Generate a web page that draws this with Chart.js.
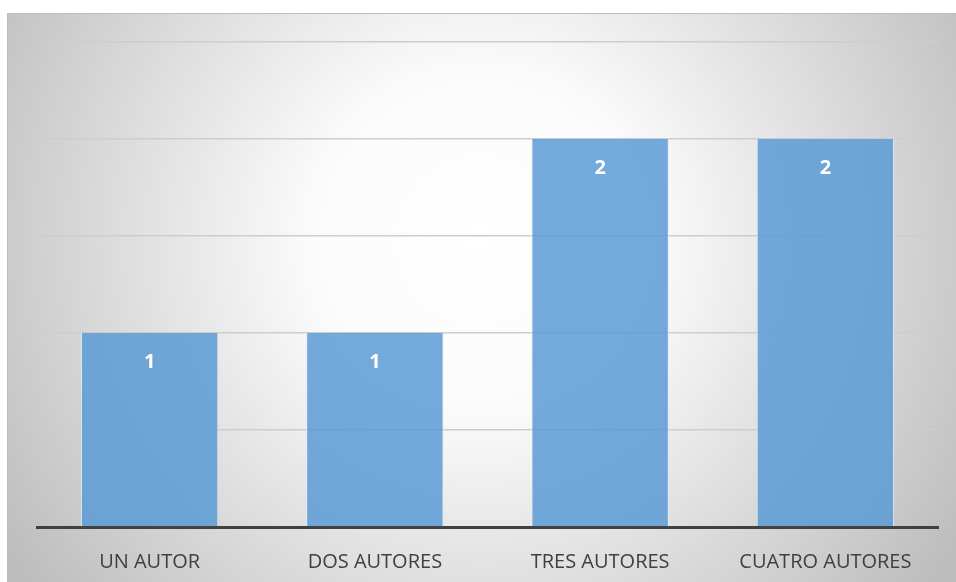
<!DOCTYPE html>
<html>
<head>
<meta charset="utf-8">
<script src="https://cdn.jsdelivr.net/npm/chart.js@4"></script>
<style>
  html, body { margin: 0; padding: 0; background: #fff; }
  #wrap { width: 956px; height: 582px; }
</style>
</head>
<body>
<div id="wrap"><canvas id="grafico"></canvas></div>
<script>
// Datos
const categorias = ['UN AUTOR', 'DOS AUTORES', 'TRES AUTORES', 'CUATRO AUTORES'];
const valores = [1, 1, 2, 2];

// Fondo con degradado radial (como el gráfico original)
const fondo = {
  id: 'fondo',
  beforeDraw(chart) {
    const c = chart.ctx;
    const x0 = 7, y0 = 13, w = chart.width - x0 + 10, h = chart.height - y0 + 10;
    const cx = 480, cy = 240;
    const g = c.createRadialGradient(cx, cy, 0, cx, cy, 560);
    g.addColorStop(0, '#ffffff');
    g.addColorStop(0.3, '#fbfbfb');
    g.addColorStop(1, '#bebebe');
    c.save();
    c.fillStyle = g;
    c.fillRect(x0, y0, w, h);
    c.strokeStyle = '#bdbdbd';
    c.lineWidth = 1;
    c.strokeRect(x0 + 0.5, y0 + 0.5, w, h);
    c.restore();
  }
};

// Etiquetas de valor dentro de las barras
const etiquetas = {
  id: 'etiquetas',
  afterDatasetsDraw(chart) {
    const c = chart.ctx;
    const meta = chart.getDatasetMeta(0);
    c.save();
    c.fillStyle = '#ffffff';
    c.font = 'bold 20px "Open Sans", sans-serif';
    c.textAlign = 'center';
    c.textBaseline = 'middle';
    meta.data.forEach((bar, i) => {
      c.fillText(valores[i], bar.x, bar.y + 29);
    });
    c.restore();
  }
};

const ctx = document.getElementById('grafico').getContext('2d');
const grafico = new Chart(ctx, {
  type: 'bar',
  data: {
    labels: categorias,
    datasets: [{
      data: valores,
      backgroundColor: 'rgba(91, 155, 213, 0.85)',
      borderColor: 'rgba(225, 238, 250, 0.9)',
      borderWidth: { left: 1, right: 1, top: 0, bottom: 0 },
      categoryPercentage: 0.61,
      barPercentage: 1
    }]
  },
  options: {
    responsive: true,
    maintainAspectRatio: false,
    animation: false,
    layout: { padding: { left: 37, right: 18, top: 42, bottom: 0 } },
    plugins: {
      legend: { display: false },
      tooltip: { enabled: false }
    },
    scales: {
      x: {
        grid: { display: false },
        border: { display: true, color: '#404040', width: 3 },
        ticks: {
          color: '#404040',
          padding: 15,
          font: { family: '"Open Sans", sans-serif', size: 20 }
        },
        afterFit(scale) { scale.height = 55; }
      },
      y: {
        min: 0,
        max: 2.5,
        ticks: { display: false, stepSize: 0.5 },
        grid: { color: '#cdcdcd', lineWidth: 1.5, drawTicks: false },
        border: { display: false }
      }
    }
  },
  plugins: [fondo, etiquetas]
});
</script>
</body>
</html>
